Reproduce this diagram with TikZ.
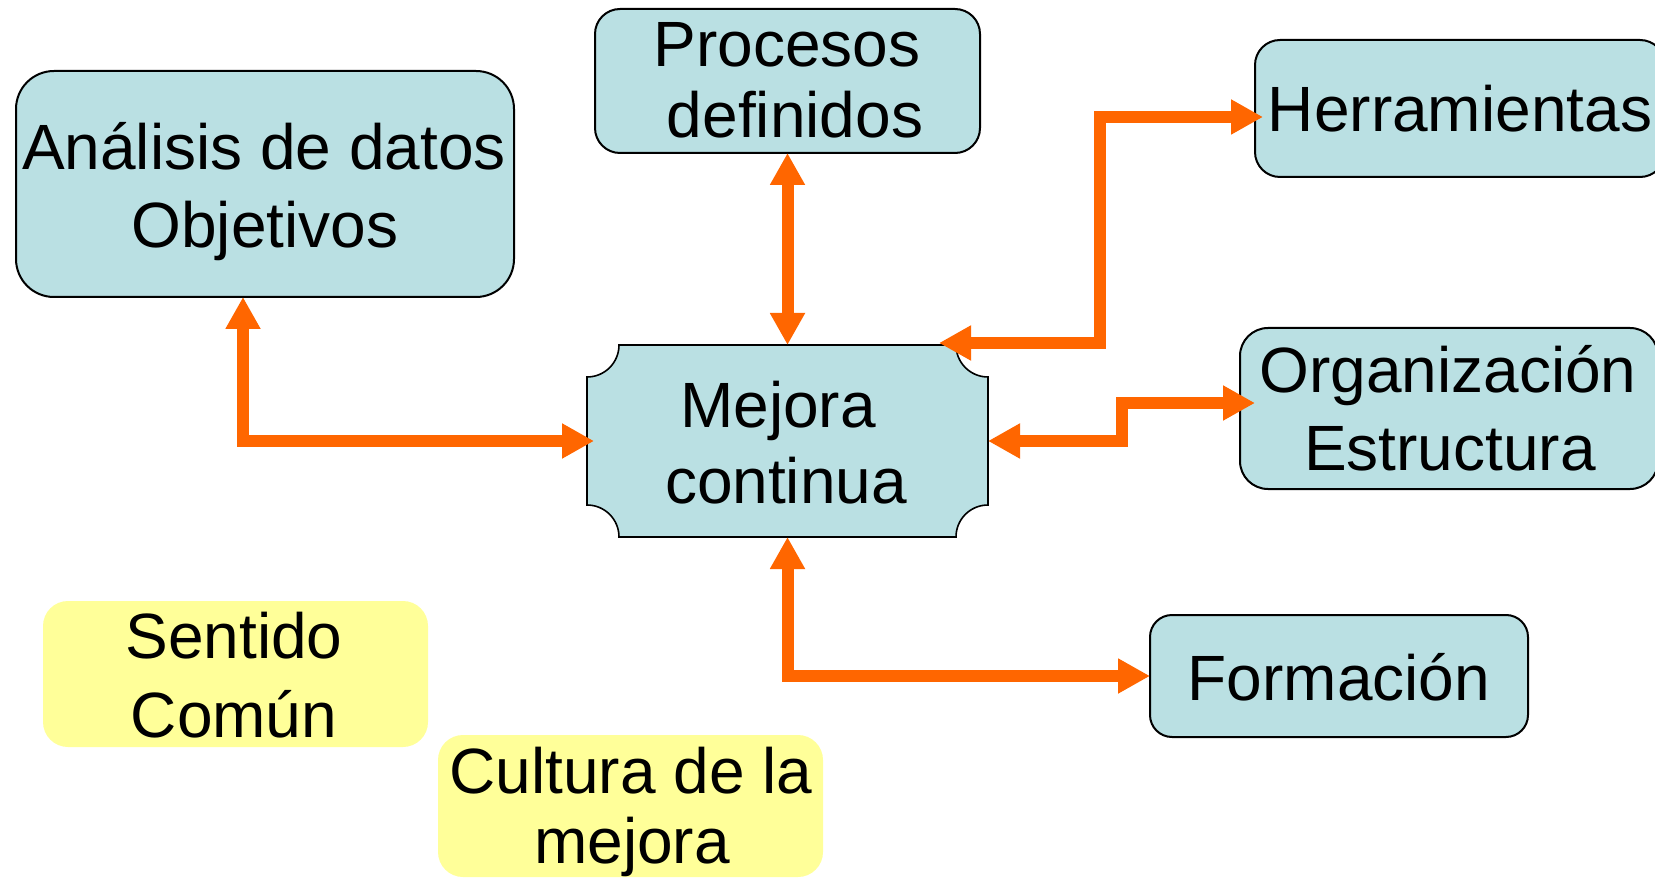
\documentclass[tikz,border=0pt]{standalone}
\usepackage{fontspec}
\setmainfont{Liberation Sans}
\usetikzlibrary{arrows.meta,calc}
\definecolor{boxblue}{RGB}{186,224,227}
\definecolor{boxyellow}{RGB}{255,255,153}
\definecolor{arrorange}{RGB}{255,102,0}
\begin{document}
\begin{tikzpicture}[x=1pt,y=-1pt,
  bluebox/.style={draw=black, line width=2pt, fill=boxblue, rounded corners=#1, inner sep=0pt, outer sep=0pt},
  yellowbox/.style={fill=boxyellow, rounded corners=#1, inner sep=0pt, outer sep=0pt},
  plainbox/.style={inner sep=0pt, outer sep=0pt},
  txt/.style={font=\fontsize{64}{76}\selectfont, inner sep=0pt, anchor=base},
  >={Triangle[length=32pt,width=33pt]},
  arr/.style={draw=arrorange, line width=12pt, <->, line join=miter}]
\useasboundingbox (0,0) rectangle (1655,882);
\fill[white] (0,0) rectangle (1655,882);

% boxes
\node[bluebox=38pt, minimum width=498pt, minimum height=226pt] (ana) at (265,184) {};
\node[bluebox=25pt, minimum width=385pt, minimum height=144pt] (proc) at (787.5,81) {};
\node[bluebox=25pt, minimum width=410pt, minimum height=137pt] (herr) at (1460,108.5) {};
\node[bluebox=28pt, minimum width=418pt, minimum height=161pt] (org) at (1449,408.5) {};
\node[bluebox=22pt, minimum width=378pt, minimum height=122pt] (form) at (1339,676) {};
\node[yellowbox=25pt, minimum width=385pt, minimum height=146pt] (sent) at (235.5,674) {};
\node[yellowbox=25pt, minimum width=385pt, minimum height=142pt] (cult) at (630.5,806) {};

% Mejora continua: rectangle with concave corners
\filldraw[fill=boxblue, draw=black, line width=1.6pt]
  (619,345) -- (956,345) .. controls (956,362.7) and (970.3,377) .. (988,377)
  -- (988,505) .. controls (970.3,505) and (956,519.3) .. (956,537)
  -- (619,537) .. controls (619,519.3) and (604.7,505) .. (587,505)
  -- (587,377) .. controls (604.7,377) and (619,362.7) .. (619,345) -- cycle;
\node[plainbox, minimum width=401pt, minimum height=192pt] (mej) at (787.5,441) {};

% texts
\node[txt] (t1) at (264,170) {Análisis de datos};
\node[txt] (t2) at (265,248) {Objetivos};
\node[txt] (t3) at (787,67) {Procesos};
\node[txt] (t4) at (795,138) {definidos};
\node[txt] (t5) at (1460,132) {Herramientas};
\node[txt] (t6) at (778,428) {Mejora};
\node[txt] (t7) at (786,503) {continua};
\node[txt] (t8) at (1448,393) {Organización};
\node[txt] (t9) at (1450,470) {Estructura};
\node[txt] (t10) at (1339,700) {Formación};
\node[txt] (t11) at (234,658) {Sentido};
\node[txt] (t12) at (234,737) {Común};
\node[txt] (t13) at (631,793) {Cultura de la};
\node[txt] (t14) at (632,863) {mejora};

% connectors
\draw[arr] ([xshift=-22pt]ana.south) |- ([xshift=7pt]mej.west);
\draw[arr] (proc.south) -- (mej.north);
\draw[arr] ([xshift=-49pt,yshift=2pt]mej.north east) -- ++(161,0) |- ([xshift=8pt,yshift=-8.5pt]herr.west);
\draw[arr] (mej.east) -- ++(134,0) |- ([xshift=15pt,yshift=5.5pt]org.west);
\draw[arr] (mej.south) |- (form.west);
\end{tikzpicture}
\end{document}
